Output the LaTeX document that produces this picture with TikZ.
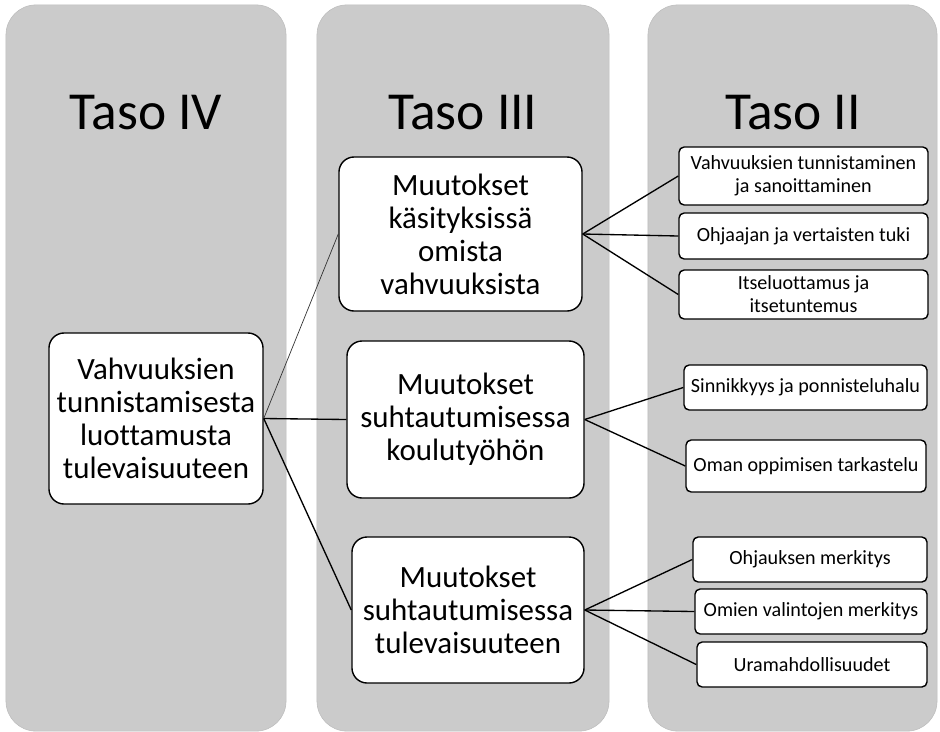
\documentclass[tikz,border=0pt]{standalone}
\usepackage{fontspec}
\setmainfont{Carlito}[Ligatures=CommonOff]
\usetikzlibrary{positioning}
\definecolor{colfill}{HTML}{CBCBCB}
\definecolor{coledge}{HTML}{BDBDBD}

\begin{document}
\begin{tikzpicture}[
        x=0.025cm, y=-0.025cm,
        layerbox/.style={rectangle, draw=coledge, fill=colfill, rounded corners=0.75cm, minimum height=18.15cm, inner sep=0pt},
        title/.style={font=\fontsize{38}{44}\selectfont, text=black},
        bigbox/.style={rectangle, draw=black, line width=1pt, fill=white, rounded corners=0.38cm, align=center, inner sep=2pt, font=\fontsize{22}{23.5}\selectfont},
        smallbox/.style={rectangle, draw=black, line width=1pt, fill=white, rounded corners=0.13cm, align=center, inner sep=1pt, font=\fontsize{14.3}{16.3}\selectfont},
        link/.style={line width=0.95pt, black}
    ]
    \useasboundingbox (0,0) rectangle (940,731);

    % TASOT
    \node[layerbox, minimum width=7cm] (taso4) at (146,368) {};
    \node[layerbox, minimum width=7.3cm] (taso3) at (463,368) {};
    \node[layerbox, minimum width=7.225cm] (taso2) at (792.5,368) {};
    \node[title] (otsikko4) at (146,113) {Taso IV};
    \node[title] (otsikko3) at (463,113) {Taso III};
    \node[title] (otsikko2) at (793,113) {Taso II};

    % TASO IV
    \node[bigbox, minimum width=5.35cm, minimum height=4.275cm] (luottamus) at (156,418.5) {Vahvuuksien\\tunnistamisesta\\luottamusta\\tulevaisuuteen};

    % TASO III
    \node[bigbox, minimum width=6.075cm, minimum height=3.85cm] (kasitykset) at (460.5,234) {Muutokset\\käsityksissä\\omista\\vahvuuksista};
    \node[bigbox, minimum width=5.925cm, minimum height=3.925cm] (koulutyo) at (465.5,419.5) {Muutokset\\suhtautumisessa\\koulutyöhön};
    \node[bigbox, minimum width=5.8cm, minimum height=3.65cm] (tulevaisuus) at (468,610) {Muutokset\\suhtautumisessa\\tulevaisuuteen};

    % TASO II
    \node[smallbox, minimum width=6.225cm, minimum height=1.45cm] (tunnistaminen) at (803.5,176) {Vahvuuksien tunnistaminen\\ja sanoittaminen};
    \node[smallbox, minimum width=6.225cm, minimum height=1.15cm] (tuki) at (803.5,236) {Ohjaajan ja vertaisten tuki};
    \node[smallbox, minimum width=6.225cm, minimum height=1.225cm] (itseluottamus) at (803.5,294.5) {Itseluottamus ja\\itsetuntemus};
    \node[smallbox, minimum width=6.075cm, minimum height=1.125cm] (sinnikkyys) at (805.5,387.5) {Sinnikkyys ja ponnisteluhalu};
    \node[smallbox, minimum width=6cm, minimum height=1.3cm] (oppiminen) at (806,466) {Oman oppimisen tarkastelu};
    \node[smallbox, minimum width=5.85cm, minimum height=1.125cm] (ohjaus) at (810,559.5) {Ohjauksen merkitys};
    \node[smallbox, minimum width=5.8cm, minimum height=1.125cm] (valinnat) at (811,611.5) {Omien valintojen merkitys};
    \node[smallbox, minimum width=5.75cm, minimum height=1.125cm] (ura) at (812,664.5) {Uramahdollisuudet};

    % Yhdysviivat
    \draw[line width=0.5pt, black!80] (luottamus.east) -- (kasitykset.west);
    \draw[link] (luottamus.east) -- (koulutyo.west);
    \draw[link] (luottamus.east) -- (tulevaisuus.west);
    \draw[link] (kasitykset.east) -- (tunnistaminen.west);
    \draw[link] (kasitykset.east) -- (tuki.west);
    \draw[link] (kasitykset.east) -- (itseluottamus.west);
    \draw[link] (koulutyo.east) -- (sinnikkyys.west);
    \draw[link] (koulutyo.east) -- (oppiminen.west);
    \draw[link] (tulevaisuus.east) -- (ohjaus.west);
    \draw[link] (tulevaisuus.east) -- (valinnat.west);
    \draw[link] (tulevaisuus.east) -- (ura.west);
\end{tikzpicture}
\end{document}
